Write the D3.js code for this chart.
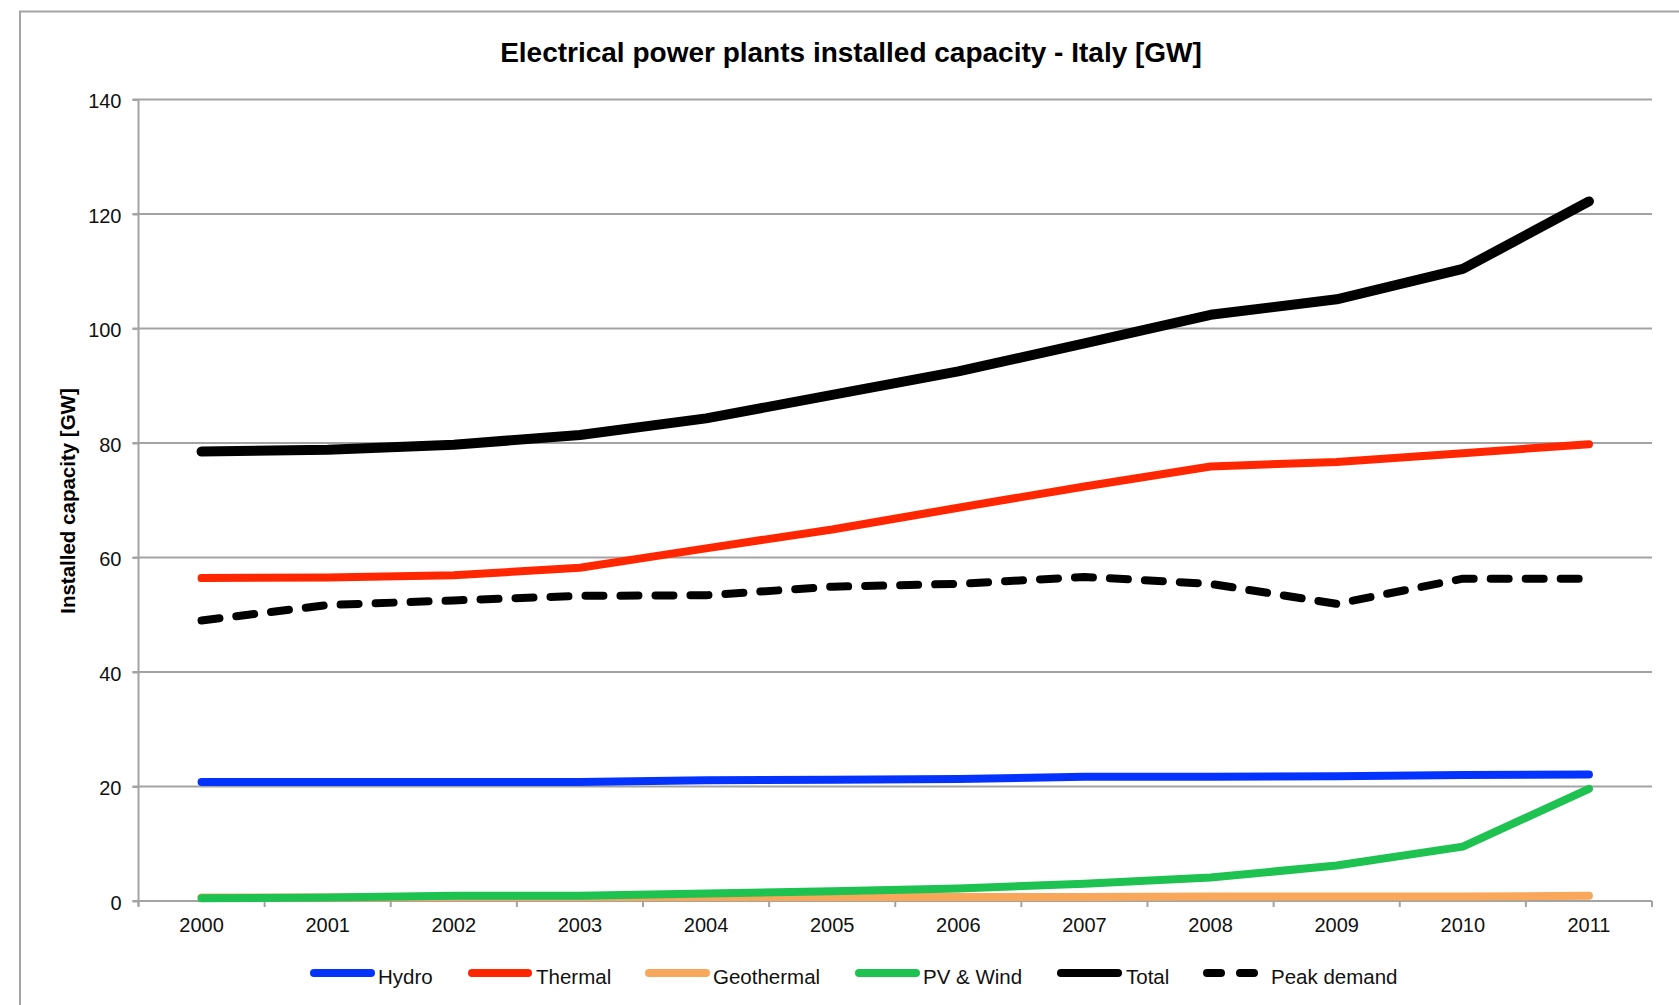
<!DOCTYPE html>
<html>
<head>
<meta charset="utf-8">
<script src="https://cdn.jsdelivr.net/npm/d3@7"></script>
<style>
  html, body { margin: 0; padding: 0; background: #fff; }
  svg { display: block; }
  text { font-family: "Liberation Sans", Arial, Helvetica, sans-serif; }
</style>
</head>
<body>
<svg id="chart" width="1679" height="1005"></svg>
<script>
// ---------- data ----------
const years = ["2000","2001","2002","2003","2004","2005","2006","2007","2008","2009","2010","2011"];
const hydro   = [20.8, 20.8, 20.8, 20.8, 21.1, 21.2, 21.3, 21.7, 21.7, 21.8, 22.0, 22.1];
const thermal = [56.4, 56.5, 56.9, 58.2, 61.6, 64.9, 68.7, 72.4, 75.9, 76.7, 78.2, 79.8];
const geothermal = [0.6, 0.6, 0.7, 0.7, 0.7, 0.7, 0.7, 0.7, 0.8, 0.8, 0.8, 0.9];
const pvWind  = [0.5, 0.6, 0.9, 0.9, 1.3, 1.7, 2.2, 3.0, 4.1, 6.2, 9.5, 19.6];
const total   = [78.5, 78.8, 79.7, 81.4, 84.3, 88.4, 92.5, 97.4, 102.4, 105.1, 110.4, 122.2];
const peakDemand = [49.0, 51.7, 52.5, 53.3, 53.4, 54.9, 55.4, 56.6, 55.4, 51.9, 56.3, 56.3];
const seriesNames = ["Hydro", "Thermal", "Geothermal", "PV & Wind", "Total", "Peak demand"];
const yTicks = [0, 20, 40, 60, 80, 100, 120, 140];
const titleText = "Electrical power plants installed capacity - Italy [GW]";
const yLabelText = "Installed capacity [GW]";

// ---------- styles / layout ----------
const seriesData = [hydro, thermal, geothermal, pvWind, total, peakDemand];
const colors = ["#0433ff", "#ff2600", "#f9a75a", "#1dc250", "#000000", "#000000"];
const widths = [8, 8, 8, 8, 10, 8];
const dashes = [null, null, null, null, null, "18,17"];
const legendLineX = [314, 472, 649, 859, 1061, 1207];
const legendLineX2 = [371, 528, 706, 916, 1118, 1254];
const legendTextX = [378, 536, 713, 923, 1126, 1271];
const legendDash = [null, null, null, null, null, "14,19"];

const plot = { left: 138.5, right: 1652, top: 99.5, bottom: 901 };
const gridColor = "#a3a3a3";

const svg = d3.select("#chart");

// frame
svg.append("rect")
  .attr("x", 20).attr("y", 11.5)
  .attr("width", 1700).attr("height", 1020)
  .attr("fill", "none").attr("stroke", gridColor).attr("stroke-width", 2);

const x = d3.scaleBand().domain(years).range([plot.left, plot.right]).padding(0);
const y = d3.scaleLinear().domain([0, 140]).range([plot.bottom, plot.top]);
const cx = d => x(d) + x.bandwidth() / 2;

// gridlines
svg.append("g").selectAll("line").data(yTicks).join("line")
  .attr("x1", plot.left - 6).attr("x2", plot.right)
  .attr("y1", d => y(d)).attr("y2", d => y(d))
  .attr("stroke", gridColor).attr("stroke-width", 2);

// y axis
const yAxis = svg.append("g")
  .attr("transform", `translate(${plot.left},0)`)
  .call(d3.axisLeft(y).tickValues(yTicks).tickSize(6).tickPadding(11));
yAxis.select(".domain").attr("stroke", gridColor).attr("stroke-width", 2)
  .attr("d", `M0,${plot.top}V${plot.bottom + 5}`);
yAxis.selectAll(".tick line").attr("stroke", gridColor).attr("stroke-width", 2);
yAxis.selectAll(".tick text").attr("font-size", 20).attr("fill", "#111").attr("dy", "0.42em")
  .attr("font-family", "'Liberation Sans', Arial, Helvetica, sans-serif");

// x axis (labels at centres, ticks at band boundaries)
const xAxis = svg.append("g")
  .attr("transform", `translate(0,${plot.bottom})`)
  .call(d3.axisBottom(x).tickSize(0).tickPadding(17));
xAxis.select(".domain").remove();
xAxis.selectAll(".tick text").attr("font-size", 20).attr("fill", "#111")
  .attr("font-family", "'Liberation Sans', Arial, Helvetica, sans-serif");
const boundaries = years.map(d => x(d)).concat([plot.right]);
svg.append("g").selectAll("line").data(boundaries).join("line")
  .attr("x1", d => d).attr("x2", d => d)
  .attr("y1", plot.bottom).attr("y2", plot.bottom + 6)
  .attr("stroke", gridColor).attr("stroke-width", 2);

// series lines
const line = d3.line().x((v, i) => cx(years[i])).y(v => y(v));
seriesData.forEach((vals, k) => {
  svg.append("path")
    .datum(vals)
    .attr("d", line)
    .attr("fill", "none")
    .attr("stroke", colors[k])
    .attr("stroke-width", widths[k])
    .attr("stroke-linecap", "round")
    .attr("stroke-linejoin", "round")
    .attr("stroke-dasharray", dashes[k]);
});

// legend
const legendY = 973;
const lg = svg.append("g");
seriesNames.forEach((name, k) => {
  lg.append("line")
    .attr("x1", legendLineX[k]).attr("x2", legendLineX2[k])
    .attr("y1", legendY).attr("y2", legendY)
    .attr("stroke", colors[k]).attr("stroke-width", 8)
    .attr("stroke-linecap", "round")
    .attr("stroke-dasharray", legendDash[k]);
  lg.append("text")
    .attr("x", legendTextX[k]).attr("y", legendY + 11)
    .attr("font-size", 20.5).attr("fill", "#111")
    .text(name);
});

// title
svg.append("text")
  .attr("x", 851).attr("y", 61.5)
  .attr("text-anchor", "middle")
  .attr("font-size", 28).attr("font-weight", "bold").attr("fill", "#000")
  .text(titleText);

// y label
svg.append("text")
  .attr("transform", "translate(75,501) rotate(-90)")
  .attr("text-anchor", "middle")
  .attr("font-size", 20.5).attr("font-weight", "bold").attr("fill", "#000")
  .text(yLabelText);
</script>
</body>
</html>
